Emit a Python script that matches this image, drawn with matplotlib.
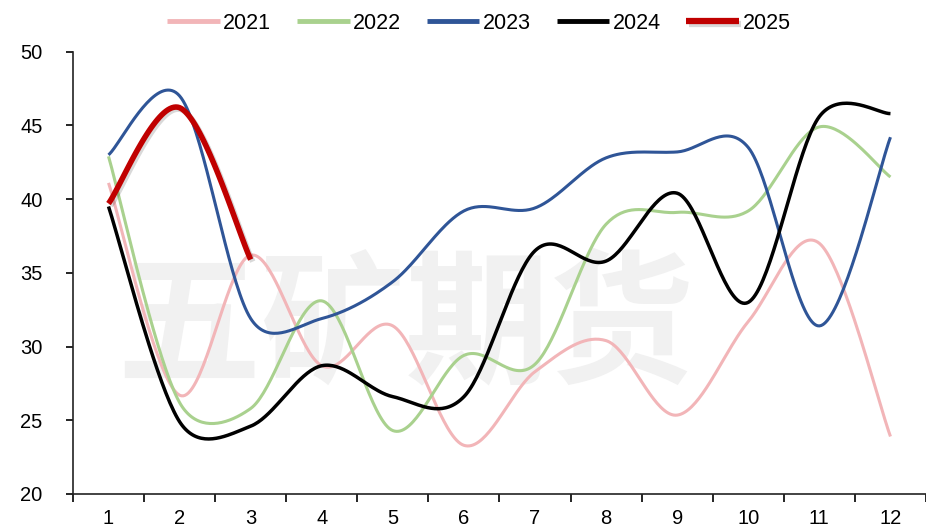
import numpy as np
import matplotlib
matplotlib.use("Agg")
import matplotlib.pyplot as plt
import matplotlib.patheffects as pe

months = list(range(1, 13))
month_labels = [str(m) for m in months]

y2021 = [41.1, 26.7, 36.2, 28.7, 31.4, 23.3, 28.3, 30.4, 25.35, 31.7, 37.0, 23.9]
y2022 = [42.9, 26.2, 25.8, 33.1, 24.3, 29.4, 28.8, 38.3, 39.1, 39.2, 44.9, 41.5]
y2023 = [43.0, 47.0, 31.9, 31.9, 34.4, 39.2, 39.4, 42.8, 43.2, 43.5, 31.4, 44.2]
y2024 = [39.5, 24.9, 24.6, 28.7, 26.6, 26.6, 36.5, 35.8, 40.4, 33.0, 45.6, 45.8]
y2025 = [39.7, 46.2, 35.9]

series = [
    ("2021", y2021, "#F2B5B8", 2.2),
    ("2022", y2022, "#A9D18E", 2.2),
    ("2023", y2023, "#2F5597", 2.2),
    ("2024", y2024, "#000000", 2.5),
    ("2025", y2025, "#C00000", 4.0),
]

# screen scale (pixels per data unit) used for the smoothing geometry
SX, SY = 71.1, 14.74


def smooth(xs, ys, n=40):
    """Spreadsheet-style Bezier smoothing through every point."""
    p = np.column_stack([np.asarray(xs, float) * SX, np.asarray(ys, float) * SY])
    m = len(p)
    out = []
    t = np.linspace(0, 1, n)[:, None]
    for i in range(m - 1):
        p1, p2 = p[i], p[i + 1]
        p0 = p[i - 1] if i > 0 else p1
        p3 = p[i + 2] if i + 2 < m else p2
        d12 = np.hypot(*(p2 - p1))
        d02 = np.hypot(*(p2 - p0))
        d13 = np.hypot(*(p3 - p1))
        f1 = 1 / 6
        if d02 > 0 and d02 / 6 > d12 / 2:
            f1 = d12 / (2 * d02)
        f2 = 1 / 6
        if d13 > 0 and d13 / 6 > d12 / 2:
            f2 = d12 / (2 * d13)
        c1 = p1 + f1 * (p2 - p0)
        c2 = p2 - f2 * (p3 - p1)
        seg = ((1 - t) ** 3) * p1 + 3 * ((1 - t) ** 2) * t * c1 \
            + 3 * (1 - t) * t ** 2 * c2 + t ** 3 * p2
        out.append(seg if i == 0 else seg[1:])
    out = np.vstack(out)
    return out[:, 0] / SX, out[:, 1] / SY


plt.rcParams["font.family"] = ["Liberation Sans", "DejaVu Sans"]

fig = plt.figure(figsize=(9.26, 5.29), dpi=100)
ax = fig.add_axes([0.0788, 0.0662, 0.9212, 0.8361])

# watermark behind the lines
ax.text(0.438, 0.378, "五矿期货", fontsize=104, fontweight="bold",
        color="#F1F1F1", ha="center", va="center",
        family=["Noto Sans CJK SC"], transform=fig.transFigure, zorder=0.5)

for name, vals, color, lw in series:
    xs = months[:len(vals)]
    sx, sy = smooth(xs, vals)
    kw = {}
    if name == "2025":
        kw["path_effects"] = [pe.SimpleLineShadow(offset=(1.5, -1.5), alpha=0.15),
                              pe.Normal()]
    ax.plot(sx, sy, color=color, lw=lw, label=name,
            solid_capstyle="butt", zorder=2, **kw)

ax.set_xlim(0.5, 12.5)
ax.set_ylim(20, 50)
ax.set_yticks(range(20, 51, 5))
ax.set_xticks(months)
ax.set_xticklabels(month_labels)
ax.set_xticks(np.arange(0.5, 12.6, 1), minor=True)
ax.tick_params(axis="x", which="major", length=0, pad=11, labelsize=14.5)
ax.tick_params(axis="x", which="minor", length=6, width=1.2, direction="out")
ax.tick_params(axis="y", length=5, width=1.2, direction="out", pad=17,
               labelsize=14.5)

for s in ("top", "right"):
    ax.spines[s].set_visible(False)
for s in ("left", "bottom"):
    ax.spines[s].set_linewidth(1.2)
    ax.spines[s].set_color("#222222")

leg = fig.legend(loc="upper center", bbox_to_anchor=(0.517, 1.012), ncol=5,
                 frameon=False, fontsize=15.5, handlelength=2.45,
                 handletextpad=0.15, columnspacing=1.2)
for line in leg.get_lines():
    line.set_linewidth(3.5 if line.get_label() != "2025" else 4.5)

fig.savefig("out.png", dpi=100)
